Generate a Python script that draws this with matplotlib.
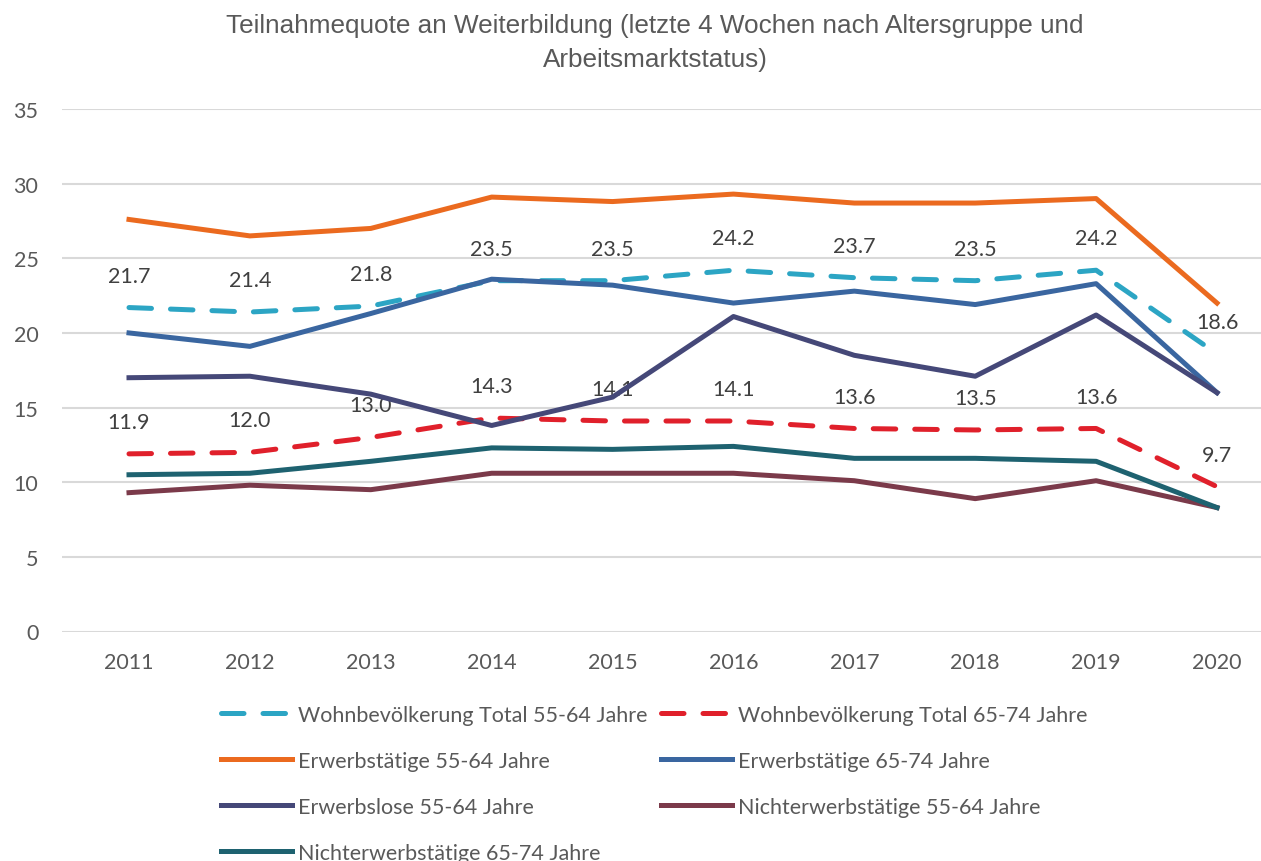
import numpy as np
import matplotlib
matplotlib.use('Agg')
import matplotlib.pyplot as plt

years = [2011, 2012, 2013, 2014, 2015, 2016, 2017, 2018, 2019, 2020]

wohn_55_64 = [21.7, 21.4, 21.8, 23.5, 23.5, 24.2, 23.7, 23.5, 24.2, 18.6]
wohn_65_74 = [11.9, 12.0, 13.0, 14.3, 14.1, 14.1, 13.6, 13.5, 13.6, 9.7]
erw_55_64 = [27.6, 26.5, 27.0, 29.1, 28.8, 29.3, 28.7, 28.7, 29.0, 22.0]
erw_65_74 = [20.0, 19.1, 21.3, 23.6, 23.2, 22.0, 22.8, 21.9, 23.3, 16.0]
erwlos_55_64 = [17.0, 17.1, 15.9, 13.8, 15.7, 21.1, 18.5, 17.1, 21.2, 16.0]
nicht_55_64 = [9.3, 9.8, 9.5, 10.6, 10.6, 10.6, 10.1, 8.9, 10.1, 8.3]
nicht_65_74 = [10.5, 10.6, 11.4, 12.3, 12.2, 12.4, 11.6, 11.6, 11.4, 8.3]

title = 'Teilnahmequote an Weiterbildung (letzte 4 Wochen nach Altersgruppe und\nArbeitsmarktstatus)'

fs = 15.5

fig = plt.figure(figsize=(12.61, 8.62), dpi=100)
ax = fig.add_axes([62/1261, 1 - 632.5/862, 1 - 62/1261, (632.5 - 110)/862])

lw = 3.6
l_w55, = ax.plot(years, wohn_55_64, color='#2CA5C4', lw=lw, dashes=(4.5, 3.8),
                 dash_capstyle='round', zorder=3, label='Wohnbevölkerung Total 55-64 Jahre')
l_w65, = ax.plot(years, wohn_65_74, color='#E0202B', lw=lw, dashes=(4.5, 3.8),
                 dash_capstyle='round', zorder=3, label='Wohnbevölkerung Total 65-74 Jahre')
l_e55, = ax.plot(years, erw_55_64, color='#EB6A1F', lw=lw, zorder=4, label='Erwerbstätige 55-64 Jahre')
l_e65, = ax.plot(years, erw_65_74, color='#3A66A0', lw=lw, zorder=4, label='Erwerbstätige 65-74 Jahre')
l_el, = ax.plot(years, erwlos_55_64, color='#454878', lw=lw, zorder=4, label='Erwerbslose 55-64 Jahre')
l_n55, = ax.plot(years, nicht_55_64, color='#7B3A4A', lw=lw, zorder=4, label='Nichterwerbstätige 55-64 Jahre')
l_n65, = ax.plot(years, nicht_65_74, color='#1E6270', lw=lw, zorder=4, label='Nichterwerbstätige 65-74 Jahre')

# data labels for the two total series
for x, v in zip(years, wohn_55_64):
    ax.annotate(f'{v:.1f}', (x, v), xytext=(0, 23), textcoords='offset points',
                ha='center', va='center', fontsize=fs, family='Lato', color='#404040', zorder=2)
for x, v in zip(years, wohn_65_74):
    ax.annotate(f'{v:.1f}', (x, v), xytext=(0, 23), textcoords='offset points',
                ha='center', va='center', fontsize=fs, family='Lato', color='#404040', zorder=2)

ax.set_xlim(2011 - 67/120.9, 2020 + 44/120.9)
ax.set_ylim(0, 35)
ax.set_yticks(np.arange(0, 36, 5))
ax.set_xticks(years)
ax.grid(axis='y', color='#D9D9D9', lw=1.5, zorder=0)
for s in ax.spines.values():
    s.set_visible(False)
ax.tick_params(length=0, labelsize=fs, labelcolor='#595959')
ax.tick_params(axis='y', pad=17)
ax.tick_params(axis='x', pad=15)
for t in ax.get_xticklabels() + ax.get_yticklabels():
    t.set_family('Lato')

fig.text(655/1261, 1 - 43/862, title, ha='center', va='center', fontsize=18.8,
         family='Liberation Sans', color='#595959', linespacing=1.55)

handles = [l_w55, l_e55, l_el, l_n65, l_w65, l_e65, l_n55]
fig.legend(handles=handles, loc='upper left', bbox_to_anchor=(221/1261, 1 - 706/862),
           ncol=2, frameon=False, prop={'family': 'Lato', 'size': fs},
           handlelength=3.3, handletextpad=0.3, labelspacing=1.2, columnspacing=0.6,
           borderpad=0, borderaxespad=0, labelcolor='#595959')

fig.savefig('out.png', dpi=100)
